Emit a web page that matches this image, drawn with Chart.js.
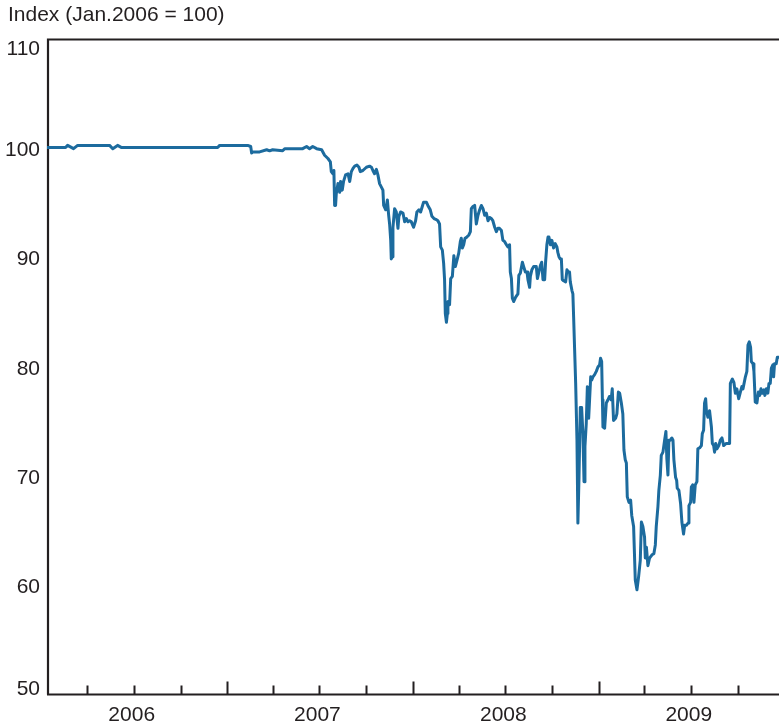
<!DOCTYPE html>
<html>
<head>
<meta charset="utf-8">
<script src="https://cdn.jsdelivr.net/npm/chart.js@4.4.1/dist/chart.umd.min.js"></script>
<style>
  html, body { margin: 0; padding: 0; background: #ffffff; overflow: hidden; }
  #wrap { width: 779px; height: 724px; position: relative; }
</style>
</head>
<body>
<div id="wrap"><canvas id="chart" width="779" height="724"></canvas></div>
<script>
// Observation times, as fractional years
const dates = [
  2006.029, 2006.129, 2006.140, 2006.172, 2006.194, 2006.366, 2006.383, 2006.409, 2006.431, 2006.948,
  2006.959, 2007.110, 2007.126, 2007.131, 2007.136, 2007.174, 2007.212, 2007.228, 2007.244, 2007.298,
  2007.309, 2007.406, 2007.427, 2007.443, 2007.460, 2007.481, 2007.508, 2007.524, 2007.542, 2007.555,
  2007.560, 2007.569, 2007.574, 2007.578, 2007.583, 2007.587, 2007.596, 2007.605, 2007.610, 2007.619,
  2007.626, 2007.637, 2007.650, 2007.659, 2007.668, 2007.677, 2007.686, 2007.698, 2007.709, 2007.716,
  2007.730, 2007.749, 2007.766, 2007.776, 2007.784, 2007.793, 2007.803, 2007.811, 2007.820, 2007.829,
  2007.838, 2007.842, 2007.853, 2007.862, 2007.869, 2007.874, 2007.880, 2007.883, 2007.889, 2007.892,
  2007.901, 2007.910, 2007.919, 2007.924, 2007.933, 2007.946, 2007.955, 2007.964, 2007.973, 2007.982,
  2007.991, 2008.003, 2008.014, 2008.021, 2008.032, 2008.041, 2008.050, 2008.057, 2008.072, 2008.080,
  2008.093, 2008.102, 2008.113, 2008.126, 2008.134, 2008.143, 2008.149, 2008.158, 2008.165, 2008.170,
  2008.174, 2008.180, 2008.185, 2008.188, 2008.197, 2008.203, 2008.212, 2008.220, 2008.228, 2008.237,
  2008.246, 2008.255, 2008.260, 2008.266, 2008.273, 2008.280, 2008.290, 2008.301, 2008.309, 2008.314,
  2008.323, 2008.332, 2008.341, 2008.350, 2008.359, 2008.368, 2008.377, 2008.386, 2008.395, 2008.404,
  2008.413, 2008.422, 2008.430, 2008.440, 2008.449, 2008.457, 2008.466, 2008.476, 2008.484, 2008.493,
  2008.503, 2008.511, 2008.520, 2008.524, 2008.530, 2008.535, 2008.542, 2008.553, 2008.565, 2008.570,
  2008.578, 2008.589, 2008.596, 2008.605, 2008.614, 2008.619, 2008.628, 2008.632, 2008.640, 2008.650,
  2008.664, 2008.670, 2008.678, 2008.686, 2008.693, 2008.700, 2008.709, 2008.714, 2008.721, 2008.727,
  2008.732, 2008.740, 2008.748, 2008.757, 2008.766, 2008.775, 2008.780, 2008.786, 2008.793, 2008.799,
  2008.804, 2008.811, 2008.822, 2008.829, 2008.836, 2008.843, 2008.847, 2008.856, 2008.861, 2008.865,
  2008.870, 2008.876, 2008.883, 2008.888, 2008.894, 2008.901, 2008.908, 2008.915, 2008.921, 2008.926,
  2008.933, 2008.939, 2008.946, 2008.951, 2008.957, 2008.962, 2008.969, 2008.978, 2008.987, 2008.996,
  2009.005, 2009.010, 2009.016, 2009.020, 2009.023, 2009.032, 2009.041, 2009.050, 2009.058, 2009.067,
  2009.073, 2009.080, 2009.091, 2009.098, 2009.106, 2009.113, 2009.122, 2009.130, 2009.136, 2009.143,
  2009.149, 2009.154, 2009.163, 2009.172, 2009.178, 2009.188, 2009.197, 2009.206, 2009.215, 2009.224,
  2009.230, 2009.238, 2009.247, 2009.251, 2009.257, 2009.265, 2009.274, 2009.287, 2009.297, 2009.305,
  2009.310, 2009.319, 2009.324, 2009.332, 2009.337, 2009.346, 2009.355, 2009.362, 2009.367, 2009.373,
  2009.378, 2009.386, 2009.394, 2009.400, 2009.405, 2009.414, 2009.420, 2009.423, 2009.432, 2009.441,
  2009.448, 2009.457, 2009.463, 2009.472, 2009.481, 2009.486, 2009.495, 2009.499, 2009.506, 2009.513,
  2009.520, 2009.529, 2009.534, 2009.544, 2009.553, 2009.558, 2009.565, 2009.570, 2009.576, 2009.580,
  2009.588, 2009.597, 2009.607, 2009.612, 2009.619, 2009.624, 2009.630, 2009.637, 2009.647, 2009.655,
  2009.664, 2009.673, 2009.687, 2009.705, 2009.709, 2009.720, 2009.728, 2009.736, 2009.744, 2009.754,
  2009.763, 2009.771, 2009.777, 2009.790, 2009.798, 2009.804, 2009.811, 2009.818, 2009.822, 2009.831,
  2009.836, 2009.843, 2009.852, 2009.860, 2009.867, 2009.874, 2009.881, 2009.890, 2009.895, 2009.903,
  2009.911, 2009.917, 2009.924, 2009.930, 2009.938, 2009.942, 2009.947, 2009.956, 2009.962, 2009.975
];

// Index level, January 2006 = 100
const indexLevel = [
  100.1, 100.1, 100.3, 100.0, 100.3, 100.3, 100.0, 100.3, 100.1, 100.1,
  100.3, 100.3, 100.2, 99.6, 99.7, 99.7, 99.9, 99.8, 99.9, 99.8,
  100.0, 100.0, 100.2, 100.0, 100.2, 100.0, 99.9, 99.4, 99.1, 98.8,
  97.9, 97.7, 98.0, 94.8, 94.8, 95.9, 96.8, 96.0, 97.0, 96.2,
  97.0, 97.6, 97.7, 97.0, 97.9, 98.2, 98.4, 98.5, 98.3, 97.9,
  98.0, 98.3, 98.4, 98.3, 98.0, 97.7, 98.1, 97.6, 96.8, 96.5,
  96.2, 94.8, 94.4, 95.3, 93.9, 93.1, 91.6, 89.9, 90.1, 92.8,
  94.5, 94.2, 92.7, 93.8, 94.2, 94.1, 93.3, 93.6, 93.3, 93.4,
  93.3, 92.8, 93.4, 94.2, 94.4, 94.2, 94.7, 95.1, 95.1, 94.8,
  94.4, 93.8, 93.6, 93.5, 93.4, 93.1, 91.0, 90.7, 89.5, 88.0,
  84.9, 84.1, 84.9, 86.0, 85.7, 88.1, 88.3, 90.2, 89.2, 89.8,
  90.4, 91.5, 91.8, 90.9, 91.2, 91.8, 91.9, 92.1, 92.4, 94.5,
  94.7, 94.8, 93.1, 93.9, 94.4, 94.8, 94.5, 93.9, 94.1, 93.4,
  93.7, 93.6, 93.4, 92.8, 92.4, 92.7, 92.7, 92.5, 91.6, 91.5,
  91.2, 91.0, 91.2, 88.7, 88.1, 86.3, 86.0, 86.4, 86.7, 88.4,
  88.6, 89.6, 89.2, 88.7, 88.7, 88.0, 87.3, 88.3, 88.9, 89.2,
  89.2, 88.1, 88.7, 89.3, 89.6, 88.0, 88.0, 89.6, 91.2, 91.9,
  91.9, 91.2, 91.6, 90.9, 91.3, 91.0, 90.5, 90.1, 89.9, 89.9,
  88.0, 87.9, 87.8, 88.9, 88.7, 88.7, 87.8, 87.0, 86.7, 84.6,
  81.8, 78.5, 73.3, 65.7, 69.9, 76.3, 76.3, 73.9, 69.5, 72.7,
  74.8, 78.2, 75.3, 77.0, 79.1, 78.8, 79.1, 79.3, 79.6, 80.0,
  80.2, 80.8, 80.5, 77.0, 74.5, 74.4, 76.7, 77.0, 77.3, 77.0,
  78.0, 75.1, 75.3, 75.7, 77.7, 77.6, 76.7, 75.7, 72.4, 71.5,
  71.2, 68.1, 67.6, 67.8, 66.4, 65.4, 60.5, 59.6, 60.8, 62.3,
  65.8, 65.4, 64.4, 62.5, 63.5, 61.8, 62.5, 62.8, 62.9, 63.7,
  65.4, 67.2, 68.7, 70.1, 71.9, 72.2, 73.3, 74.1, 71.6, 70.1,
  73.3, 73.3, 73.5, 73.3, 71.5, 69.9, 69.6, 68.9, 68.7, 67.5,
  65.8, 64.7, 65.5, 65.5, 65.7, 67.3, 67.6, 69.0, 69.2, 67.6,
  69.2, 69.5, 72.5, 72.6, 72.8, 73.9, 74.2, 76.7, 77.1, 76.0,
  75.4, 76.0, 74.5, 73.0, 72.8, 72.2, 73.0, 72.5, 72.8, 73.3,
  73.5, 72.8, 73.0, 73.0, 78.5, 78.9, 78.6, 77.6, 78.0, 77.1,
  77.7, 78.2, 78.0, 79.1, 79.6, 82.0, 82.3, 81.8, 80.5, 80.3,
  79.6, 76.8, 76.7, 77.7, 77.4, 78.0, 77.6, 77.9, 77.4, 78.0,
  77.6, 78.5, 78.5, 79.9, 80.2, 79.1, 80.3, 80.3, 80.9, 80.9
];

const yTickValues = [50, 60, 70, 80, 90, 100, 110];
const yearLabels = [2006, 2007, 2008, 2009];
const axisTitle = 'Index (Jan.2006 = 100)';

const INK = '#231f20';
const LINE_BLUE = '#1c6b9e';
const FONT = '21px "Liberation Sans", Arial, Helvetica, sans-serif';

// fractional-year position of the first day of a month
function monthStart(year, month) {
  const start = Date.UTC(year, 0, 1);
  const next = Date.UTC(year + 1, 0, 1);
  return year + (Date.UTC(year, month, 1) - start) / (next - start);
}

const points = dates.map((t, i) => ({ x: t, y: indexLevel[i] }));

// Frame, quarterly tick marks and all axis text
const axisDecor = {
  id: 'axisDecor',
  beforeDatasetsDraw(chart) {
    const { ctx, chartArea: a } = chart;
    ctx.save();
    ctx.strokeStyle = INK;
    ctx.lineWidth = 2.2;
    ctx.beginPath();
    ctx.moveTo(a.left + 1, a.bottom);
    ctx.lineTo(a.left + 1, a.top);
    ctx.lineTo(chart.width, a.top);
    ctx.moveTo(a.left, a.bottom);
    ctx.lineTo(chart.width, a.bottom);
    ctx.stroke();
    ctx.restore();
  },
  afterDraw(chart) {
    const { ctx, chartArea: a } = chart;
    const xs = chart.scales.x;
    const ys = chart.scales.y;
    ctx.save();
    // tick marks at quarter starts; year starts are taller
    ctx.strokeStyle = INK;
    ctx.lineWidth = 2;
    ctx.beginPath();
    for (const yr of [2006, 2007, 2008, 2009, 2010]) {
      for (const m of [0, 3, 6, 9]) {
        const v = monthStart(yr, m);
        if (v <= xs.min || v >= xs.max) continue;
        const px = Math.round(xs.getPixelForValue(v)) + 0.5;
        const len = m === 0 ? 13 : 9;
        ctx.moveTo(px, a.bottom);
        ctx.lineTo(px, a.bottom - len);
      }
    }
    ctx.stroke();

    ctx.fillStyle = INK;
    ctx.font = FONT;

    // year labels centred under mid-year
    ctx.textAlign = 'center';
    ctx.textBaseline = 'alphabetic';
    for (const yr of yearLabels) {
      const px = xs.getPixelForValue(monthStart(yr, 6)) - 2;
      ctx.fillText(String(yr), px, a.bottom + 26);
    }

    // value labels on the left
    ctx.textAlign = 'right';
    for (const v of yTickValues) {
      const py = ys.getPixelForValue(v);
      let base = py + 7.5;
      if (v === ys.max) base = py + 15;
      if (v === ys.min) base = py + 0.5;
      ctx.fillText(String(v), 40, base);
    }

    // axis title
    ctx.textAlign = 'left';
    ctx.fillText(axisTitle, 8, 21);
    ctx.restore();
  }
};

new Chart(document.getElementById('chart'), {
  type: 'line',
  data: {
    datasets: [{
      data: points,
      borderColor: LINE_BLUE,
      borderWidth: 3,
      borderJoinStyle: 'round',
      borderCapStyle: 'butt',
      pointRadius: 0,
      tension: 0,
      fill: false
    }]
  },
  options: {
    responsive: false,
    animation: false,
    devicePixelRatio: 1,
    layout: { padding: { top: 39.5, right: 0, bottom: 0, left: 0 } },
    plugins: { legend: { display: false }, tooltip: { enabled: false }, title: { display: false } },
    scales: {
      x: {
        type: 'linear',
        min: 2006.029,
        max: 2009.971,
        grid: { display: false },
        border: { display: false },
        ticks: { display: false },
        afterFit(s) { s.height = 29.5; }
      },
      y: {
        min: 50,
        max: 110,
        grid: { display: false },
        border: { display: false },
        ticks: { display: false },
        afterFit(s) { s.width = 47; }
      }
    }
  },
  plugins: [axisDecor]
});
</script>
</body>
</html>
